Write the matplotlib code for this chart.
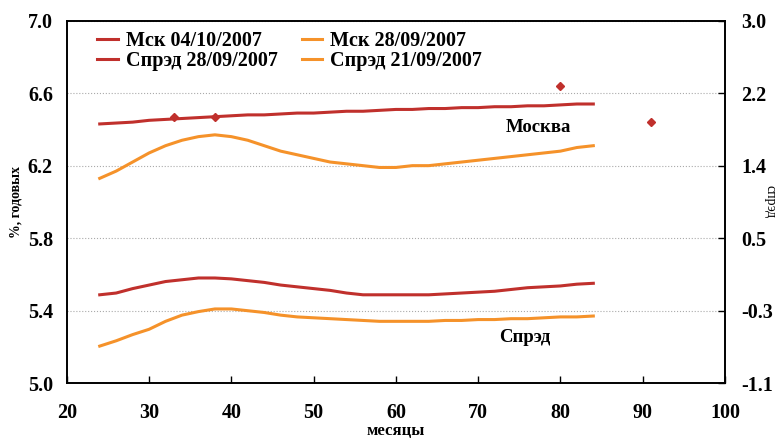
import numpy as np
import matplotlib.pyplot as plt

plt.rcParams['font.family'] = ['Liberation Serif', 'DejaVu Serif']
plt.rcParams['font.weight'] = 'bold'

# maturity, months
months = [24, 26, 28, 30, 32, 34, 36, 38, 40, 42, 44, 46, 48, 50, 52, 54,
          56, 58, 60, 62, 64, 66, 68, 70, 72, 74, 76, 78, 80, 82, 84]

# Moscow yield curves, % p.a. (left axis)
msk_0410 = [6.43, 6.435, 6.44, 6.45, 6.455, 6.46, 6.465, 6.47, 6.475, 6.48, 6.48,
            6.485, 6.49, 6.49, 6.495, 6.50, 6.50, 6.505, 6.51, 6.51, 6.515, 6.515,
            6.52, 6.52, 6.525, 6.525, 6.53, 6.53, 6.535, 6.54, 6.54]
msk_2809 = [6.13, 6.17, 6.22, 6.27, 6.31, 6.34, 6.36, 6.37, 6.36, 6.34, 6.31,
            6.28, 6.26, 6.24, 6.22, 6.21, 6.20, 6.19, 6.19, 6.20, 6.20, 6.21,
            6.22, 6.23, 6.24, 6.25, 6.26, 6.27, 6.28, 6.30, 6.31]

# spreads (right axis)
spr_2809 = [-0.10, -0.08, -0.03, 0.01, 0.05, 0.07, 0.09, 0.09, 0.08, 0.06, 0.04,
            0.01, -0.01, -0.03, -0.05, -0.08, -0.10, -0.10, -0.10, -0.10, -0.10,
            -0.09, -0.08, -0.07, -0.06, -0.04, -0.02, -0.01, 0.00, 0.02, 0.03]
spr_2109 = [-0.68, -0.62, -0.55, -0.49, -0.40, -0.33, -0.29, -0.26, -0.26, -0.28,
            -0.30, -0.33, -0.35, -0.36, -0.37, -0.38, -0.39, -0.40, -0.40, -0.40,
            -0.40, -0.39, -0.39, -0.38, -0.38, -0.37, -0.37, -0.36, -0.35, -0.35, -0.34]

# individual bonds
bond_x = [33, 38, 80, 91]
bond_y = [6.47, 6.47, 6.64, 6.44]

red = '#C0302C'
orange = '#F5922A'

fig, ax = plt.subplots(figsize=(7.77, 4.38), dpi=100)
fig.subplots_adjust(left=0.086, right=0.933, top=0.953, bottom=0.125)
ax2 = ax.twinx()

l1, = ax.plot(months, msk_0410, color=red, lw=2.2, label='Мск 04/10/2007')
l2, = ax.plot(months, msk_2809, color=orange, lw=2.2, label='Мск 28/09/2007')
ax.plot(bond_x, bond_y, 'D', color=red, ms=4.5, ls='none')
l3, = ax2.plot(months, spr_2809, color=red, lw=2.2, label='Спрэд 28/09/2007')
l4, = ax2.plot(months, spr_2109, color=orange, lw=2.2, label='Спрэд 21/09/2007')

ax.set_xlim(20, 100)
ax.set_ylim(5.0, 7.0)
ax.set_xticks(range(20, 101, 10))
ax.set_yticks([5.0, 5.4, 5.8, 6.2, 6.6, 7.0])
ax.yaxis.set_major_formatter(plt.FormatStrFormatter('%.1f'))
ax2.set_ylim(-1.1, 3.0)
rticks = np.linspace(-1.1, 3.0, 6)
ax2.set_yticks(rticks)
ax2.set_yticklabels(['%.1f' % v for v in rticks])

ax.grid(axis='y', color='#AAAAAA', ls=':', lw=0.8)
for a in (ax, ax2):
    a.tick_params(labelsize=14.5, length=5, width=1, direction='in')
    for s in a.spines.values():
        s.set_linewidth(1.2)
ax.tick_params(axis='x', pad=14)
ax.tick_params(axis='y', left=False, pad=10)
ax2.tick_params(axis='y', pad=12)

ax.set_xlabel('месяцы', fontsize=12, fontweight='bold', labelpad=0)
ax.set_ylabel('%, годовых', fontsize=10, fontweight='bold', labelpad=4)
ax2.set_ylabel('спрэд', fontsize=10, fontweight='normal', rotation=270, labelpad=2)

ax.text(77.3, 6.41, 'Москва', fontsize=13.5, ha='center', va='center')
ax.text(75.7, 5.255, 'Спрэд', fontsize=13.5, ha='center', va='center')

handles = [l1, l3, l2, l4]
ax.legend(handles, [h.get_label() for h in handles],
          loc='upper left', bbox_to_anchor=(0.025, 1.01), ncol=2, frameon=False,
          fontsize=14.5, handlelength=1.0, handletextpad=0.4, columnspacing=1.2,
          labelspacing=0.0, borderaxespad=0.3)

plt.savefig('out.png', dpi=100)
